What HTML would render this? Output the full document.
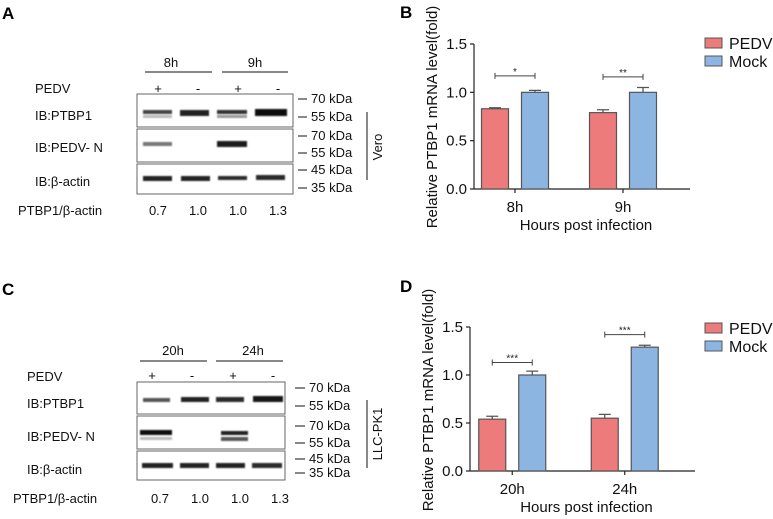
<!DOCTYPE html>
<html><head><meta charset="utf-8">
<style>
html,body{margin:0;padding:0;background:#fff;}
svg{display:block;font-family:"Liberation Sans",Arial,sans-serif;}
</style></head>
<body>
<svg id="fig" width="773" height="519" viewBox="0 0 773 519" xmlns="http://www.w3.org/2000/svg">
<defs>
<filter id="blur" x="-20%" y="-100%" width="140%" height="300%"><feGaussianBlur stdDeviation="0.9"/></filter>
</defs>
<text x="2" y="19" font-size="17" font-weight="bold">A</text>
<text x="400" y="18" font-size="17" font-weight="bold">B</text>
<text x="2" y="295" font-size="17" font-weight="bold">C</text>
<text x="400" y="292" font-size="17" font-weight="bold">D</text>

<g font-size="13" fill="#111">
  <text x="171" y="67" text-anchor="middle">8h</text>
  <text x="255" y="67" text-anchor="middle">9h</text>
  <line x1="145" y1="72" x2="212" y2="72" stroke="#111" stroke-width="1"/>
  <line x1="222" y1="72" x2="288" y2="72" stroke="#111" stroke-width="1"/>
  <text x="35" y="93">PEDV</text>
  <text x="158" y="93" text-anchor="middle">+</text>
  <text x="198" y="93" text-anchor="middle">-</text>
  <text x="238" y="93" text-anchor="middle">+</text>
  <text x="278" y="93" text-anchor="middle">-</text>
  <text x="35" y="120">IB:PTBP1</text>
  <text x="35" y="152">IB:PEDV- N</text>
  <text x="35" y="186">IB:β-actin</text>
  <text x="18" y="215">PTBP1/β-actin</text>
  <text x="158" y="215" text-anchor="middle">0.7</text>
  <text x="198" y="215" text-anchor="middle">1.0</text>
  <text x="238" y="215" text-anchor="middle">1.0</text>
  <text x="278" y="215" text-anchor="middle">1.3</text>
  <rect x="137" y="94" width="156" height="33" fill="#fff" stroke="#666"/>
  <rect x="137" y="129" width="156" height="33" fill="#fff" stroke="#666"/>
  <rect x="137" y="164" width="156" height="30" fill="#fff" stroke="#666"/>
  <g filter="url(#blur)">
    <rect x="143" y="110" width="29" height="4" fill="#444"/><rect x="143" y="115" width="29" height="3" fill="#bbb"/>
    <rect x="180" y="110" width="29" height="6" fill="#222"/>
    <rect x="217" y="110" width="30" height="4" fill="#333"/><rect x="217" y="115" width="30" height="3" fill="#999"/>
    <rect x="255" y="109" width="32" height="7" fill="#111"/>
    <rect x="143" y="142" width="29" height="4" fill="#777"/>
    <rect x="217" y="141" width="30" height="6" fill="#1a1a1a"/>
    <rect x="143" y="176" width="29" height="5" fill="#222"/>
    <rect x="181" y="176" width="29" height="5" fill="#222"/>
    <rect x="218" y="176" width="29" height="4" fill="#2a2a2a"/>
    <rect x="256" y="175" width="29" height="5" fill="#2a2a2a"/>
  </g>
  <g>
    <line x1="298" y1="99" x2="307" y2="99" stroke="#111"/><text x="311" y="103">70 kDa</text>
    <line x1="298" y1="117" x2="307" y2="117" stroke="#111"/><text x="311" y="121">55 kDa</text>
    <line x1="298" y1="136" x2="307" y2="136" stroke="#111"/><text x="311" y="140">70 kDa</text>
    <line x1="298" y1="153" x2="307" y2="153" stroke="#111"/><text x="311" y="157">55 kDa</text>
    <line x1="298" y1="170" x2="307" y2="170" stroke="#111"/><text x="311" y="174">45 kDa</text>
    <line x1="298" y1="188" x2="307" y2="188" stroke="#111"/><text x="311" y="192">35 kDa</text>
  </g>
  <line x1="367" y1="112" x2="367" y2="180" stroke="#111"/>
  <text transform="translate(382,147) rotate(-90)" text-anchor="middle">Vero</text>
</g>

<g font-size="13" fill="#111">
  <text x="173" y="355" text-anchor="middle">20h</text>
  <text x="253" y="355" text-anchor="middle">24h</text>
  <line x1="140" y1="361" x2="207" y2="361" stroke="#111"/>
  <line x1="216" y1="361" x2="283" y2="361" stroke="#111"/>
  <text x="27" y="381">PEDV</text>
  <text x="152" y="380" text-anchor="middle">+</text>
  <text x="192" y="380" text-anchor="middle">-</text>
  <text x="233" y="380" text-anchor="middle">+</text>
  <text x="273" y="380" text-anchor="middle">-</text>
  <text x="27" y="408">IB:PTBP1</text>
  <text x="27" y="441">IB:PEDV- N</text>
  <text x="27" y="474">IB:β-actin</text>
  <text x="13" y="503">PTBP1/β-actin</text>
  <text x="160" y="503" text-anchor="middle">0.7</text>
  <text x="200" y="503" text-anchor="middle">1.0</text>
  <text x="240" y="503" text-anchor="middle">1.0</text>
  <text x="280" y="503" text-anchor="middle">1.3</text>
  <rect x="137" y="382" width="148" height="32" fill="#fff" stroke="#666"/>
  <rect x="137" y="416" width="148" height="33" fill="#fff" stroke="#666"/>
  <rect x="137" y="451" width="148" height="29" fill="#fff" stroke="#666"/>
  <g filter="url(#blur)">
    <rect x="143" y="398" width="27" height="4" fill="#555"/>
    <rect x="181" y="397" width="28" height="5" fill="#222"/>
    <rect x="216" y="397" width="28" height="5" fill="#2a2a2a"/>
    <rect x="253" y="396" width="30" height="6" fill="#151515"/>
    <rect x="140" y="430" width="32" height="5" fill="#111"/><rect x="140" y="437" width="32" height="3" fill="#bbb"/>
    <rect x="221" y="431" width="27" height="4" fill="#222"/><rect x="221" y="437" width="27" height="4" fill="#555"/>
    <rect x="142" y="463" width="31" height="5" fill="#222"/>
    <rect x="180" y="463" width="29" height="5" fill="#222"/>
    <rect x="216" y="463" width="29" height="5" fill="#222"/>
    <rect x="252" y="463" width="30" height="5" fill="#2a2a2a"/>
  </g>
  <g>
    <line x1="295" y1="388" x2="305" y2="388" stroke="#111"/><text x="309" y="392">70 kDa</text>
    <line x1="295" y1="406" x2="305" y2="406" stroke="#111"/><text x="309" y="410">55 kDa</text>
    <line x1="295" y1="426" x2="305" y2="426" stroke="#111"/><text x="309" y="430">70 kDa</text>
    <line x1="295" y1="443" x2="305" y2="443" stroke="#111"/><text x="309" y="447">55 kDa</text>
    <line x1="295" y1="459" x2="305" y2="459" stroke="#111"/><text x="309" y="463">45 kDa</text>
    <line x1="295" y1="473" x2="305" y2="473" stroke="#111"/><text x="309" y="477">35 kDa</text>
  </g>
  <line x1="367" y1="400" x2="367" y2="468" stroke="#111"/>
  <text transform="translate(382,434) rotate(-90)" text-anchor="middle">LLC-PK1</text>
</g>

<g id="chartB"></g>
<g id="chartD"></g>
</svg>
<script>
// Chart B data
const catsB = ["8h", "9h"];
const pedvB = [0.83, 0.79];
const pedvErrB = [0.01, 0.03];
const mockB = [1.0, 1.0];
const mockErrB = [0.02, 0.05];
const sigB = ["*", "**"];
const sigLevelB = [1.17, 1.16];
// Chart D data
const catsD = ["20h", "24h"];
const pedvD = [0.54, 0.55];
const pedvErrD = [0.03, 0.04];
const mockD = [1.0, 1.29];
const mockErrD = [0.04, 0.02];
const sigD = ["***", "***"];
const sigLevelD = [1.13, 1.42];
const yTicks = [0, 0.5, 1.0, 1.5];
const yTickLabels = ["0.0", "0.5", "1.0", "1.5"];
const seriesNames = ["PEDV", "Mock"];

const NS = "http://www.w3.org/2000/svg";
function mk(parent, tag, attrs, text) {
  const e = document.createElementNS(NS, tag);
  for (const k in attrs) e.setAttribute(k, attrs[k]);
  if (text !== undefined) e.textContent = text;
  parent.appendChild(e);
  return e;
}
function drawChart(g, cfg, cats, s1, e1, s2, e2, sig, sigLvl) {
  const y = v => cfg.y0 - (v / 1.5) * (cfg.y0 - cfg.y15);
  const gw = (cfg.xR - cfg.x0) / cats.length;
  const cx = i => cfg.x0 + gw * (i + 0.5) + cfg.shift;
  const bw = 27, gap = 13;
  const ya = mk(g, "line", {x1: cfg.x0, y1: cfg.y15, x2: cfg.x0, y2: cfg.y0, stroke: "#222", "stroke-width": 1.2});
  
  
  const xa = mk(g, "line", {x1: cfg.x0, y1: cfg.y0, x2: cfg.xR, y2: cfg.y0, stroke: "#222", "stroke-width": 1.2});
  
  
  yTicks.forEach((t, i) => {
    const tk = mk(g, "line", {x1: cfg.x0 - 4, y1: y(t), x2: cfg.x0, y2: y(t), stroke: "#222", "stroke-width": 1.2});
    
    
    const tl = mk(g, "text", {x: cfg.x0 - 7, y: y(t) + 5, "text-anchor": "end", "font-size": 15, fill: "#111"}, yTickLabels[i]);
    
    
  });
  cats.forEach((c, i) => {
    const xc = cx(i);
    const tk = mk(g, "line", {x1: xc, y1: cfg.y0, x2: xc, y2: cfg.y0 + 4, stroke: "#222", "stroke-width": 1.2});
    
    
    const cl = mk(g, "text", {x: xc, y: cfg.y0 + 23, "text-anchor": "middle", "font-size": 15, fill: "#111"}, c);
    
    
    const bars = [[s1[i], e1[i], "#ED7B7B", xc - gap / 2 - bw, "bar-pedv-" + c], [s2[i], e2[i], "#8DB5E2", xc + gap / 2, "bar-mock-" + c]];
    bars.forEach(b => {
      const bx = b[3];
      const eb = mk(g, "path", {d: `M${bx + bw / 2},${y(b[0])} V${y(b[0] + b[1])} M${bx + bw / 2 - 6},${y(b[0] + b[1])} H${bx + bw / 2 + 6}`, stroke: "#555", "stroke-width": 1.3, fill: "none"});
      
      
      const r = mk(g, "rect", {x: bx, y: y(b[0]), width: bw, height: cfg.y0 - y(b[0]), fill: b[2], stroke: "#555", "stroke-width": 1.2});
      
      
    });
    const xa1 = xc - gap / 2 - bw / 2, xa2 = xc + gap / 2 + bw / 2, ys = y(sigLvl[i]);
    const sb = mk(g, "path", {d: `M${xa1},${ys} H${xa2} M${xa1},${ys - 3} V${ys + 3} M${xa2},${ys - 3} V${ys + 3}`, stroke: "#444", "stroke-width": 1, fill: "none"});
    
    
    const st = mk(g, "text", {x: (xa1 + xa2) / 2, y: ys - 1, "text-anchor": "middle", "font-size": 10, fill: "#222"}, sig[i]);
    
    
  });
  const xt = mk(g, "text", {x: (cfg.x0 + cfg.xR) / 2 + 4, y: cfg.y0 + 41, "text-anchor": "middle", "font-size": 15, fill: "#111"}, "Hours post infection");
  
  
  const ytl = mk(g, "text", {transform: `translate(${cfg.yTitleX},${cfg.yTitleY}) rotate(-90)`, "text-anchor": "middle", "font-size": 15, fill: "#111"}, "Relative PTBP1 mRNA level(fold)");
  
  
  const colors = ["#ED7B7B", "#8DB5E2"];
  seriesNames.forEach((n, i) => {
    const ly = cfg.legY + i * 18;
    const lr = mk(g, "rect", {x: 705, y: ly, width: 17, height: 10, fill: colors[i], stroke: "#555", "stroke-width": 1});
    
    
    const lt = mk(g, "text", {x: 729, y: ly + 11, "font-size": 16, fill: "#111"}, n);
    
    
  });
}
drawChart(document.getElementById("chartB"), {x0: 474, xR: 690, y0: 189, y15: 44, shift: -13, yTitleX: 437, yTitleY: 117, legY: 38},
  catsB, pedvB, pedvErrB, mockB, mockErrB, sigB, sigLevelB);
drawChart(document.getElementById("chartD"), {x0: 470, xR: 695, y0: 471, y15: 327, shift: -14, yTitleX: 433, yTitleY: 400, legY: 323},
  catsD, pedvD, pedvErrD, mockD, mockErrD, sigD, sigLevelD);
</script>
</body></html>
